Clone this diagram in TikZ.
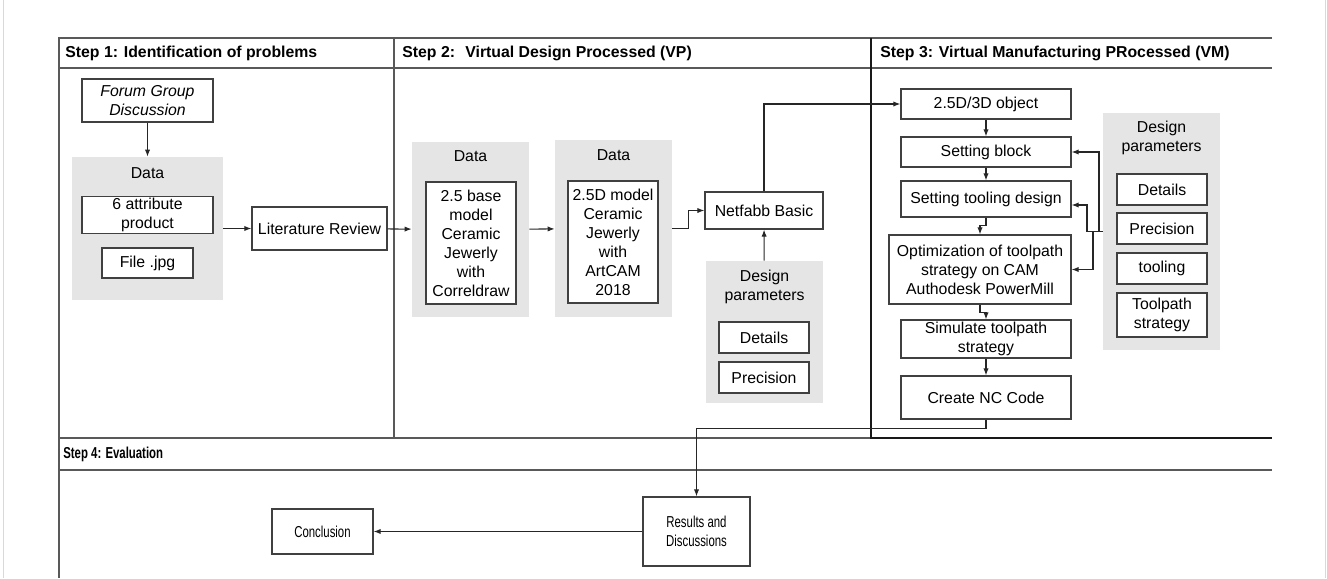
\documentclass[tikz,border=0pt]{standalone}
\usepackage{fontspec}
\setmainfont{Liberation Sans}
\newfontfamily\narrowfont[FakeStretch=0.72]{Liberation Sans}
\usetikzlibrary{arrows.meta,positioning,calc}
\tikzset{
  pbox/.style={
    rectangle, draw=black!75, line width=0.7pt, fill=white,
    minimum width=18mm, minimum height=6.2mm,
    align=center, font=\fontsize{9}{10.8}\selectfont, inner sep=1pt
  },
  pnarrow/.style={pbox, font=\narrowfont\fontsize{9}{10.8}\selectfont},
  parea/.style={rectangle, fill=black!10, inner sep=0pt},
  ptitle/.style={align=center, font=\fontsize{9}{10.8}\selectfont, inner sep=0pt},
  phead/.style={anchor=west, font=\fontsize{9}{10.8}\selectfont\bfseries, inner sep=0pt},
  pframe/.style={draw=black!65, line width=1.1pt},
  parrow/.style={-{Latex[length=4pt,width=3pt]}, draw=black!85, line width=0.6pt},
  pline/.style={draw=black!85, line width=0.6pt},
}

\begin{document}
\begin{tikzpicture}[x=0.2mm, y=-0.2mm]
  \useasboundingbox (0,0) rectangle (1327,578);
  \draw[black!15, line width=0.4pt] (3,0) -- (3,578) (1325,0) -- (1325,578);
  % frame of the four steps
  \draw[pframe] (1272,38) -- (59,38) -- (59,578);
  \draw[pframe] (59,68) -- (1272,68);
  \draw[pframe] (394,38) -- (394,438);
  \draw[pframe] (59,438) -- (1272,438);
  \draw[pframe] (59,470) -- (1272,470);
  \draw[pframe, draw=black!90] (871,38) -- (871,438) -- (1272,438);
  \node[phead] (h1) at (65,53) {Step 1: Identification of problems};
  \node[phead] (h2) at (402,53) {Step 2:~ Virtual Design Processed (VP)};
  \node[phead] (h3) at (880,53) {Step 3: Virtual Manufacturing PRocessed (VM)};
  \node[phead, font=\narrowfont\fontsize{9}{10.8}\selectfont\bfseries] (h4) at (63,454) {Step 4: Evaluation};

  % step 1
  \node (n1) [pbox, minimum width=26.2mm, minimum height=8.6mm, font=\fontsize{9}{10.8}\selectfont\itshape] at (147.5,100.5) {Forum Group\\Discussion};
  \node (n2) [parea, minimum width=30.2mm, minimum height=28.6mm] at (147.5,228.5) {};
  \node (n2t) [ptitle] at (147.5,173) {Data};
  \node (n2a) [pbox, minimum width=26.2mm, minimum height=7.2mm] at (147.5,215) {6 attribute\\product};
  \node (n2b) [pbox, minimum width=18.2mm, minimum height=6mm] at (147.5,263) {File .jpg};
  \node (n3) [pbox, minimum width=27mm, minimum height=8.6mm] at (319.5,228.5) {Literature Review};

  % step 2
  \node (n4) [parea, minimum width=23.4mm, minimum height=35mm] at (470.5,229.5) {};
  \node (n4t) [ptitle] at (470.5,156) {Data};
  \node (n4a) [pbox, minimum height=24.4mm] at (471,243) {2.5 base\\model\\Ceramic\\Jewerly\\with\\Correldraw};
  \node (n5) [parea, minimum width=23.4mm, minimum height=35.4mm] at (613.5,228.5) {};
  \node (n5t) [ptitle] at (613.5,155) {Data};
  \node (n5a) [pbox, minimum height=24.4mm] at (613,242) {2.5D model\\Ceramic\\Jewerly\\with\\ArtCAM\\2018};
  \node (n6) [pbox, minimum width=23.6mm, minimum height=7.4mm] at (764,210.5) {Netfabb Basic};
  \node (n7) [parea, minimum width=23.4mm, minimum height=28.4mm] at (764.5,332) {};
  \node (n7t) [ptitle] at (764.5,287) {Design\\parameters};
  \node (n7a) [pbox] at (764,337.5) {Details};
  \node (n7b) [pbox] at (764,377.5) {Precision};

  % step 3
  \node (n8) [pbox, minimum width=34mm, minimum height=6mm] at (986,104) {2.5D/3D object};
  \node (n9) [pbox, minimum width=34mm, minimum height=6mm] at (986,152) {Setting block};
  \node (n10) [pbox, minimum width=34mm, minimum height=7.2mm] at (986,199) {Setting tooling design};
  \node (n11) [pbox, minimum width=36.4mm, minimum height=13.8mm] at (980,269.5) {Optimization of toolpath\\strategy on CAM\\Authodesk PowerMill};
  \node (n12) [pbox, minimum width=34mm, minimum height=7.6mm] at (986,339) {Simulate toolpath\\strategy};
  \node (n13) [pbox, minimum width=34mm, minimum height=8.6mm] at (986,397.5) {Create NC Code};
  \node (n14) [parea, minimum width=23.4mm, minimum height=47.4mm] at (1161.5,231.5) {};
  \node (n14t) [ptitle] at (1161.5,138) {Design\\parameters};
  \node (n14a) [pbox] at (1162,189.5) {Details};
  \node (n14b) [pbox] at (1162,228.5) {Precision};
  \node (n14c) [pbox] at (1162,268.5) {tooling};
  \node (n14d) [pbox, minimum height=8.8mm] at (1162,315) {Toolpath\\strategy};

  % step 4
  \node (n15) [pnarrow, minimum width=21.4mm, minimum height=13.8mm] at (696.5,531.5) {Results and\\Discussions};
  \node (n16) [pnarrow, minimum width=20.2mm, minimum height=9mm] at (322.5,531.5) {Conclusion};

  % connectors
  \coordinate (fbA) at (1087,231.5);
  \coordinate (fbB) at (1093,231.5);
  \coordinate (fbC) at (1099,231.5);
  \draw[parrow] (n1) -- (n2);
  \draw[parrow] (n2) -- (n3);
  \draw[parrow] (n3) -- (n4);
  \draw[parrow] (n4) -- (n5);
  \draw[parrow] (n5.east) -- ++(16,0) |- (n6.west);
  \draw[parrow] (n6.north) |- (n8.west);
  \draw[parrow] (n7) -- (n6);
  \draw[parrow] (n8) -- (n9);
  \draw[parrow] (n9) -- (n10);
  \draw[parrow] (n10.south) -- ++(0,8) -| (n11.north);
  \draw[parrow] (n11.south) -- ++(0,8) -| (n12.north);
  \draw[parrow] (n12) -- (n13);
  \draw[pline] (n14.west) -- (fbA);
  \draw[parrow] (fbC) |- (n9.east);
  \draw[parrow] (fbA) |- ([yshift=-1.2mm]n10.east);
  \draw[parrow] (fbB) |- (n11.east);
  \draw[parrow] (n13.south) -- ++(0,9) -| (n15.north);
  \draw[parrow] (n15) -- (n16);
\end{tikzpicture}
\end{document}
